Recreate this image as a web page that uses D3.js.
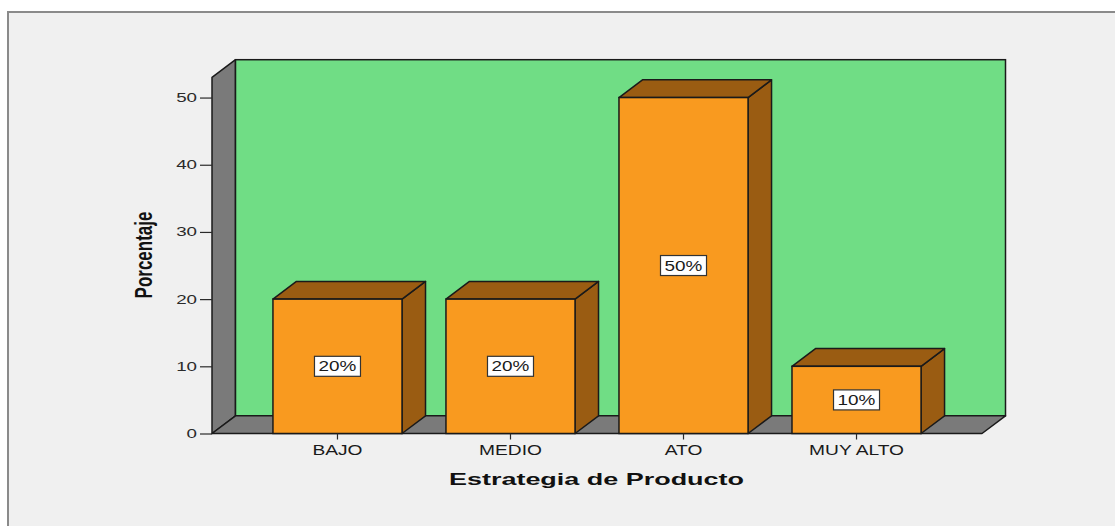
<!DOCTYPE html>
<html>
<head>
<meta charset="utf-8">
<script src="https://cdn.jsdelivr.net/npm/d3@7"></script>
<style>
  html, body { margin: 0; padding: 0; background: #ffffff; }
  svg { display: block; font-family: "Liberation Sans", Arial, sans-serif; }
</style>
</head>
<body>
<svg id="chart" width="1115" height="526"></svg>
<script>
// ---- data ----
const categories = ["BAJO", "MEDIO", "ATO", "MUY ALTO"];
const percentages = [20, 20, 50, 10];
const barLabels = ["20%", "20%", "50%", "10%"];
const yTicks = [0, 10, 20, 30, 40, 50];
const yTitle = "Porcentaje";
const xTitle = "Estrategia de Producto";

// ---- layout ----
const svg = d3.select("#chart");
const W = 1115, H = 526;
const dx = 23.5, dy = -17.7;        // 3D depth offset
const yMax = 53;
const y = d3.scaleLinear().domain([0, yMax]).range([433.5, 77.4]);
const x = d3.scaleBand().domain(categories).range([229, 965]).padding(0.254);
const plotLeft = 212, plotRight = 982;
const stretch = 1.37; // horizontal glyph stretch of the original
const sw = 1.5;

const C = {
  bg: "#f0f0f0", frame: "#8a8a8a", wall: "#70dd85", side: "#7a7a7a",
  front: "#f99a1f", dark: "#9a5c12", line: "#1a1a1a", text: "#2a2a2a"
};

function stretchText(sel, factor) {
  sel.each(function () {
    const len = this.getComputedTextLength();
    d3.select(this).attr("textLength", len * factor).attr("lengthAdjust", "spacingAndGlyphs");
  });
}

// frame
svg.append("rect").attr("x", 8).attr("y", 12).attr("width", W + 20).attr("height", H + 20)
  .attr("fill", C.bg).attr("stroke", C.frame).attr("stroke-width", 2);

const y0 = y(0), yT = y(yMax);

// left wall
svg.append("polygon")
  .attr("points", [[plotLeft, yT], [plotLeft + dx, yT + dy], [plotLeft + dx, y0 + dy], [plotLeft, y0]].join(" "))
  .attr("fill", C.side).attr("stroke", C.line).attr("stroke-width", sw).attr("stroke-linejoin", "round");

// back wall
svg.append("rect")
  .attr("x", plotLeft + dx).attr("y", yT + dy)
  .attr("width", plotRight - plotLeft).attr("height", y0 - yT)
  .attr("fill", C.wall).attr("stroke", C.line).attr("stroke-width", sw);

// floor
svg.append("polygon")
  .attr("points", [[plotLeft, y0], [plotLeft + dx, y0 + dy], [plotRight + dx, y0 + dy], [plotRight, y0]].join(" "))
  .attr("fill", C.side).attr("stroke", C.line).attr("stroke-width", sw).attr("stroke-linejoin", "round");

// bars
const data = categories.map((c, i) => ({ c, v: percentages[i], label: barLabels[i] }));
const bw = x.bandwidth();
const bars = svg.append("g").selectAll("g").data(data).join("g");

bars.append("polygon") // right side
  .attr("points", d => {
    const x1 = x(d.c) + bw, yt = y(d.v);
    return [[x1, yt], [x1 + dx, yt + dy], [x1 + dx, y0 + dy], [x1, y0]].join(" ");
  })
  .attr("fill", C.dark).attr("stroke", C.line).attr("stroke-width", sw).attr("stroke-linejoin", "round");

bars.append("polygon") // top
  .attr("points", d => {
    const x0 = x(d.c), x1 = x0 + bw, yt = y(d.v);
    return [[x0, yt], [x0 + dx, yt + dy], [x1 + dx, yt + dy], [x1, yt]].join(" ");
  })
  .attr("fill", C.dark).attr("stroke", C.line).attr("stroke-width", sw).attr("stroke-linejoin", "round");

bars.append("rect") // front
  .attr("x", d => x(d.c)).attr("y", d => y(d.v))
  .attr("width", bw).attr("height", d => y0 - y(d.v))
  .attr("fill", C.front).attr("stroke", C.line).attr("stroke-width", sw);

// value labels
bars.each(function (d) {
  const g = d3.select(this);
  const cx = x(d.c) + bw / 2, cy = (y(d.v) + y0) / 2;
  g.append("rect")
    .attr("x", cx - 23).attr("y", cy - 10).attr("width", 46).attr("height", 20)
    .attr("fill", "#ffffff").attr("stroke", "#333").attr("stroke-width", 1.2);
  g.append("text")
    .attr("x", cx).attr("y", cy + 5)
    .attr("text-anchor", "middle")
    .attr("font-size", 14).attr("fill", "#1a1a1a")
    .text(d.label)
    .call(stretchText, 1.35);
});

// y axis
const yAxis = svg.append("g").attr("transform", `translate(${plotLeft},0)`)
  .call(d3.axisLeft(y).tickValues(yTicks).tickSize(12).tickPadding(3).tickFormat(d3.format("d")));
yAxis.select(".domain").remove();
yAxis.selectAll(".tick line").attr("stroke", C.text).attr("stroke-width", 1.2);
yAxis.selectAll(".tick text")
  .attr("font-size", 12.5).attr("fill", C.text)
  .attr("font-family", "Liberation Sans, Arial, sans-serif")
  .call(stretchText, 1.5);

// x axis
const xAxis = svg.append("g").attr("transform", `translate(0,${y0})`)
  .call(d3.axisBottom(x).tickSize(6).tickPadding(6));
xAxis.select(".domain").remove();
xAxis.selectAll(".tick line").attr("stroke", C.text).attr("stroke-width", 1.2);
xAxis.selectAll(".tick text")
  .attr("font-size", 14).attr("fill", "#1a1a1a")
  .attr("font-family", "Liberation Sans, Arial, sans-serif")
  .call(stretchText, stretch);

// axis titles
svg.append("text")
  .attr("x", 596.5).attr("y", 485)
  .attr("text-anchor", "middle")
  .attr("font-size", 17).attr("font-weight", "bold").attr("fill", "#111")
  .text(xTitle)
  .attr("textLength", 295).attr("lengthAdjust", "spacingAndGlyphs");

svg.append("text")
  .attr("transform", "translate(151.5,255) scale(1.4,1) rotate(-90)")
  .attr("text-anchor", "middle")
  .attr("font-size", 17).attr("font-weight", "bold").attr("fill", "#111")
  .text(yTitle);
</script>
</body>
</html>
